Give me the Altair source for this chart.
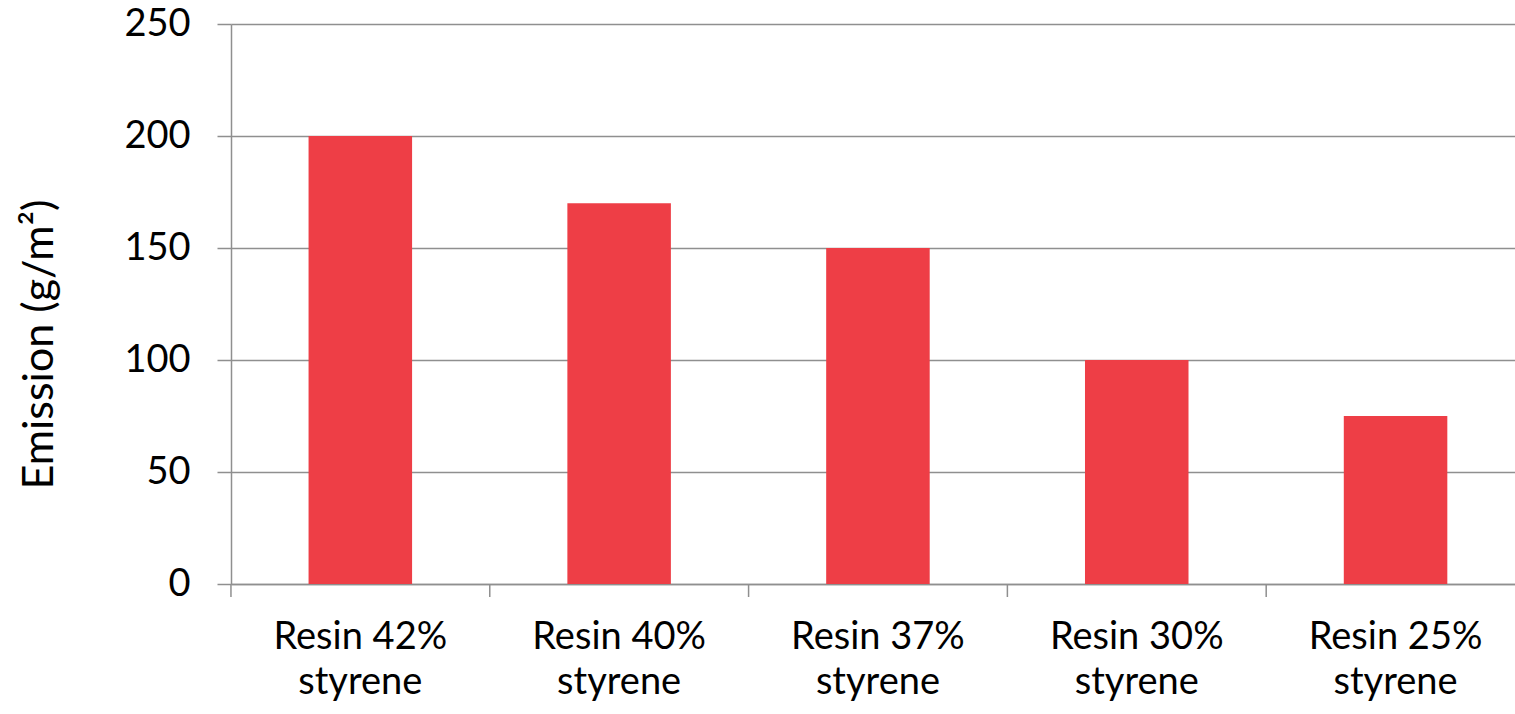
import altair as alt
import pandas as pd

categories = ["Resin 42%\nstyrene", "Resin 40%\nstyrene", "Resin 37%\nstyrene",
              "Resin 30%\nstyrene", "Resin 25%\nstyrene"]
emission = [200, 170, 150, 100, 75]
y_ticks = [0, 50, 100, 150, 200, 250]

df = pd.DataFrame({"cat": categories, "val": emission})

FONT = "Lato"
GRID = "#8F8F8F"
BAR = "#EE3E46"

x_scale = alt.Scale(paddingInner=0.6, paddingOuter=0.2806, align=0.534)
x_axis = alt.Axis(title=None, ticks=False, domain=True, domainColor=GRID, domainWidth=1.5,
                  labelAngle=0, labelFont=FONT, labelFontSize=38, labelColor="#000000",
                  labelPadding=34, labelLineHeight=45,
                  labelExpr="split(datum.label, '\\n')", grid=False)

bars = alt.Chart(df).mark_bar(color=BAR).encode(
    x=alt.X("cat:N", sort=None, scale=x_scale, axis=x_axis),
    y=alt.Y("val:Q", scale=alt.Scale(domain=[0, 250], nice=False),
            axis=alt.Axis(values=y_ticks, title="Emission (g/m²)", grid=True,
                          gridColor=GRID, gridWidth=1.5, domainColor=GRID, domainWidth=1.5,
                          tickColor=GRID, tickWidth=1.5, tickSize=14,
                          labelFont=FONT, labelFontSize=38, labelColor="#000000",
                          labelPadding=27, titleFont=FONT, titleFontSize=43,
                          titleFontWeight="normal", titleColor="#000000",
                          titleX=-192, titleY=320, titleBaseline="middle", titleAngle=270)),
)

ticks = alt.Chart(df).mark_rule(color=GRID, strokeWidth=1.5, xOffset=-77.6).encode(
    x=alt.X("cat:N", sort=None, scale=x_scale, axis=x_axis, bandPosition=0),
    y=alt.value(560),
    y2=alt.value(573),
)

chart = alt.layer(bars, ticks).properties(
    width=1284, height=560,
    padding={"left": 231, "top": 24, "right": 0, "bottom": 130},
    autosize=alt.AutoSizeParams(type="none"),
).configure_view(stroke=None)

chart.save("out.html", embed_options={"renderer": "svg", "actions": False})
